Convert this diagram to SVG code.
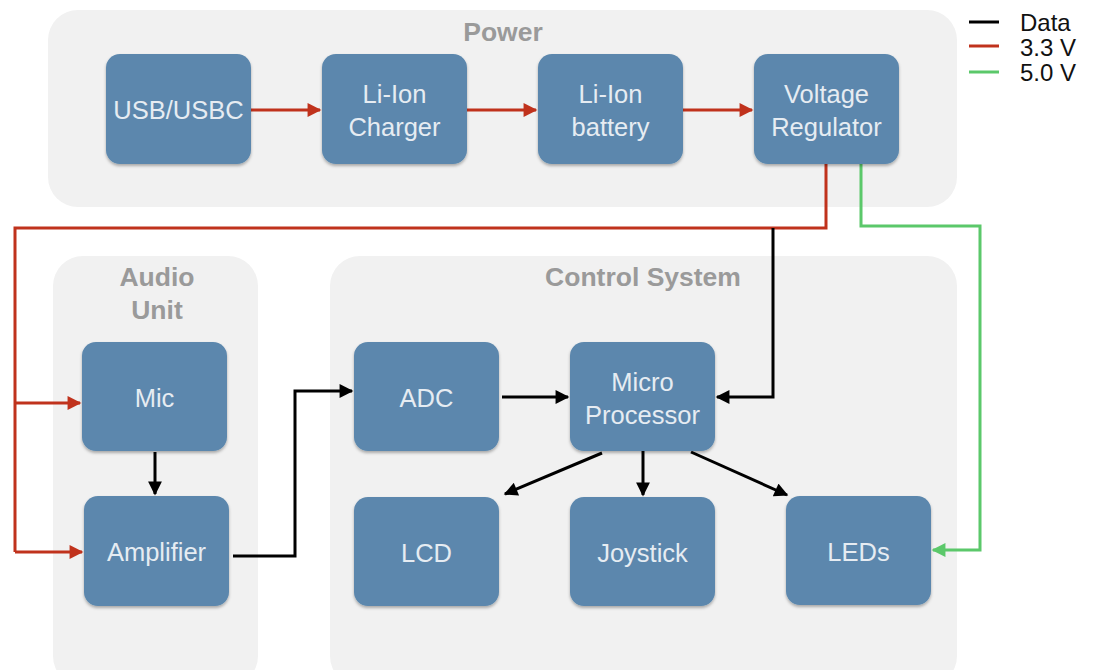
<svg xmlns="http://www.w3.org/2000/svg" width="1093" height="670" viewBox="0 0 1093 670">
<style>
.grp{fill:#f1f1f1}
.gt{font-family:"Liberation Sans",Arial,sans-serif;font-weight:bold;font-size:26.5px;fill:#9a9a9a;text-anchor:middle}
.nd{fill:#5b87ad;filter:url(#sh)}
.nt{font-family:"Liberation Sans",Arial,sans-serif;font-size:25.5px;fill:#e6ecf2;text-anchor:middle}
.lg{font-family:"Liberation Sans",Arial,sans-serif;font-size:24px;fill:#111}
.r{stroke:#c0321c;stroke-width:3;fill:none}
.k{stroke:#000;stroke-width:3;fill:none}
.g{stroke:#5bc86a;stroke-width:3;fill:none}
</style>
<defs>
<filter id="sh" x="-10%" y="-10%" width="120%" height="125%">
<feDropShadow dx="0" dy="2" stdDeviation="1.5" flood-color="#000" flood-opacity="0.3"/>
</filter>
<marker id="ar" viewBox="0 0 10 10" refX="9" refY="5" markerWidth="5" markerHeight="4.6" orient="auto" markerUnits="strokeWidth"><path d="M0,0 L10,5 L0,10 z" fill="#c0321c"/></marker>
<marker id="ak" viewBox="0 0 10 10" refX="9" refY="5" markerWidth="5" markerHeight="4.6" orient="auto" markerUnits="strokeWidth"><path d="M0,0 L10,5 L0,10 z" fill="#000"/></marker>
<marker id="ag" viewBox="0 0 10 10" refX="9" refY="5" markerWidth="5" markerHeight="4.6" orient="auto" markerUnits="strokeWidth"><path d="M0,0 L10,5 L0,10 z" fill="#5bc86a"/></marker>
</defs>
<rect width="1093" height="670" fill="#fff"/>
<g id="power-group"><rect class="grp" x="48" y="10" width="909" height="197" rx="30"/><text class="gt" x="503" y="41">Power</text></g>
<g id="audio-group"><rect class="grp" x="53" y="256" width="205" height="430" rx="30"/><text class="gt" x="157" y="286">Audio</text><text class="gt" x="157" y="319">Unit</text></g>
<g id="control-group"><rect class="grp" x="330" y="256" width="627" height="430" rx="30"/><text class="gt" x="643" y="286">Control System</text></g>
<g id="connectors">
<path class="r" d="M251,110 H320" marker-end="url(#ar)"/>
<path class="r" d="M467,110 H536" marker-end="url(#ar)"/>
<path class="r" d="M683,110 H752" marker-end="url(#ar)"/>
<path class="r" d="M826,164 V228 H15 V552"/>
<path class="r" d="M15,403 H80" marker-end="url(#ar)"/>
<path class="r" d="M15,552 H82" stroke-width="2" marker-end="url(#ar)"/>
<path class="k" d="M773,228 V397 H717" marker-end="url(#ak)"/>
<path class="g" d="M861,164 V226 H980 V550 H933" marker-end="url(#ag)"/>
<path class="k" d="M155,452 V494" marker-end="url(#ak)"/>
<path class="k" d="M233,556 H295 V391 H352" marker-end="url(#ak)"/>
<path class="k" d="M502,397 H568" marker-end="url(#ak)"/>
<path class="k" d="M602,453 L505,494" marker-end="url(#ak)"/>
<path class="k" d="M643,451 V495" marker-end="url(#ak)"/>
<path class="k" d="M691,452 L787,495" marker-end="url(#ak)"/>
</g>
<g id="usb"><rect class="nd" x="106" y="54" width="145" height="110" rx="14"/><text class="nt" x="178.5" y="119">USB/USBC</text></g>
<g id="charger"><rect class="nd" x="322" y="54" width="145" height="110" rx="14"/><text class="nt" x="394.5" y="103">Li-Ion</text><text class="nt" x="394.5" y="136">Charger</text></g>
<g id="battery"><rect class="nd" x="538" y="54" width="145" height="110" rx="14"/><text class="nt" x="610.5" y="103">Li-Ion</text><text class="nt" x="610.5" y="136">battery</text></g>
<g id="regulator"><rect class="nd" x="754" y="54" width="145" height="110" rx="14"/><text class="nt" x="826.5" y="103">Voltage</text><text class="nt" x="826.5" y="136">Regulator</text></g>
<g id="mic"><rect class="nd" x="82" y="342" width="145" height="109" rx="14"/><text class="nt" x="154.5" y="407">Mic</text></g>
<g id="amplifier"><rect class="nd" x="84" y="496" width="145" height="110" rx="14"/><text class="nt" x="156.5" y="561">Amplifier</text></g>
<g id="adc"><rect class="nd" x="354" y="342" width="145" height="109" rx="14"/><text class="nt" x="426.5" y="407">ADC</text></g>
<g id="micro"><rect class="nd" x="570" y="342" width="145" height="109" rx="14"/><text class="nt" x="642.5" y="391">Micro</text><text class="nt" x="642.5" y="424">Processor</text></g>
<g id="lcd"><rect class="nd" x="354" y="497" width="145" height="109" rx="14"/><text class="nt" x="426.5" y="562">LCD</text></g>
<g id="joystick"><rect class="nd" x="570" y="497" width="145" height="109" rx="14"/><text class="nt" x="642.5" y="562">Joystick</text></g>
<g id="leds"><rect class="nd" x="786" y="496" width="145" height="109" rx="14"/><text class="nt" x="858.5" y="561">LEDs</text></g>
<g id="legend">
<line x1="969" y1="22" x2="999" y2="22" stroke="#000" stroke-width="3"/>
<line x1="969" y1="46" x2="999" y2="46" stroke="#c0321c" stroke-width="3"/>
<line x1="969" y1="72" x2="999" y2="72" stroke="#5bc86a" stroke-width="3"/>
<text class="lg" x="1020" y="31">Data</text>
<text class="lg" x="1020" y="55.5">3.3 V</text>
<text class="lg" x="1020" y="81">5.0 V</text>
</g>
</svg>
